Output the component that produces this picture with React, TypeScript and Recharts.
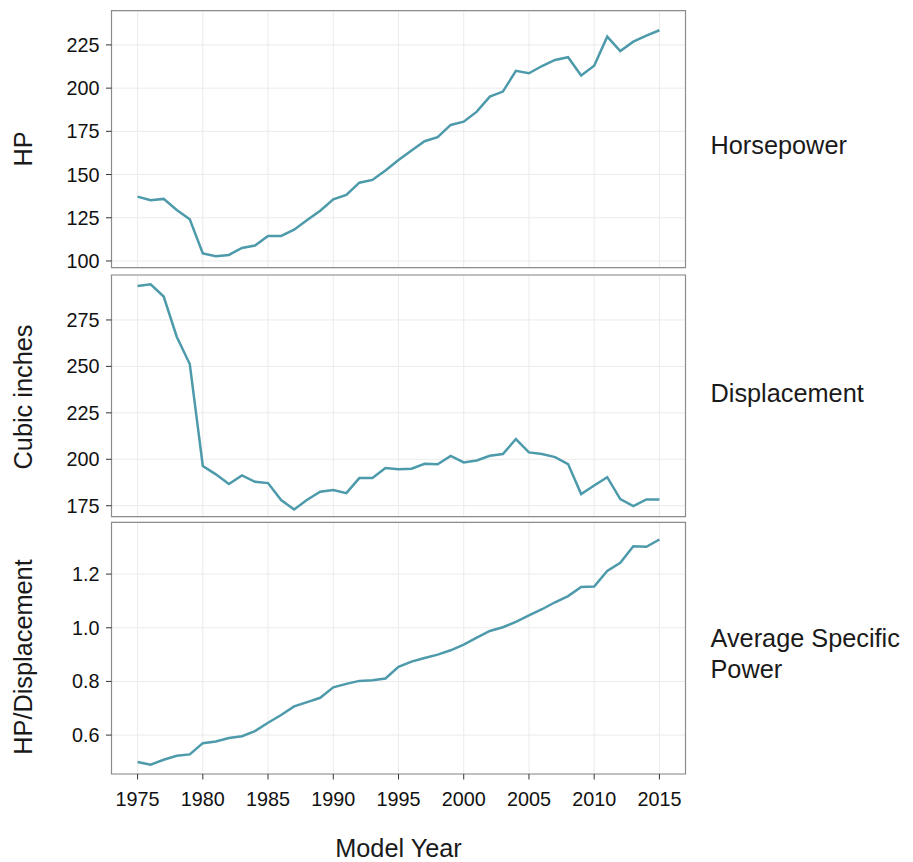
import { LineChart, Line, XAxis, YAxis, CartesianGrid, ReferenceArea } from 'recharts'

const years = [
  1975, 1976, 1977, 1978, 1979, 1980, 1981, 1982, 1983, 1984,
  1985, 1986, 1987, 1988, 1989, 1990, 1991, 1992, 1993, 1994,
  1995, 1996, 1997, 1998, 1999, 2000, 2001, 2002, 2003, 2004,
  2005, 2006, 2007, 2008, 2009, 2010, 2011, 2012, 2013, 2014, 2015,
]

const horsepower = [
  137.2, 135.1, 135.9, 129.5, 124.1, 104.4, 102.7, 103.5, 107.5, 108.9,
  114.5, 114.5, 118.1, 123.7, 129.1, 135.7, 138.2, 145.3, 146.9, 152.3,
  158.4, 163.9, 169.3, 171.6, 178.7, 180.6, 186.4, 195.1, 198.0, 210.0,
  208.6, 212.8, 216.3, 217.9, 207.3, 213.0, 229.8, 221.5, 226.9, 230.4, 233.5,
]

const displacement = [
  293.3, 294.2, 287.6, 266.0, 251.3, 196.4, 191.9, 186.7, 191.3, 187.9,
  187.2, 178.1, 173.0, 178.2, 182.5, 183.4, 181.8, 189.9, 189.9, 195.3,
  194.7, 194.9, 197.6, 197.3, 201.8, 198.3, 199.4, 201.9, 202.8, 210.9,
  203.7, 202.8, 201.2, 197.4, 181.3, 185.9, 190.4, 178.6, 174.8, 178.4, 178.4,
]

const specificPower = [
  0.500, 0.490, 0.508, 0.523, 0.528, 0.570, 0.576, 0.589, 0.596, 0.615,
  0.646, 0.675, 0.707, 0.723, 0.739, 0.778, 0.791, 0.802, 0.804, 0.811,
  0.854, 0.874, 0.887, 0.900, 0.916, 0.937, 0.963, 0.988, 1.002, 1.022,
  1.046, 1.069, 1.095, 1.118, 1.152, 1.154, 1.212, 1.242, 1.304, 1.302, 1.329,
]

const xTicks = [1975, 1980, 1985, 1990, 1995, 2000, 2005, 2010, 2015]
const hpTicks = [100, 125, 150, 175, 200, 225]
const dispTicks = [175, 200, 225, 250, 275]
const powerTicks = [0.6, 0.8, 1.0, 1.2]

const FONT = '"Liberation Sans", Arial, Helvetica, sans-serif'
const LINE = '#4d9aab'
const GRID = '#ebebeb'
const BORDER = '#8c8c8c'
const X_DOMAIN: [number, number] = [1973, 2017]
const TICK_SIZE = 19.8

interface PanelProps {
  values: number[]
  ticks: number[]
  domain: [number, number]
  top: number
  height: number
  margin: { top: number; right: number; bottom: number; left: number }
  showX?: boolean
  fmt?: (v: number) => string
}

function Panel({ values, ticks, domain, top, height, margin, showX, fmt }: PanelProps) {
  const data = years.map((year, i) => ({ year, value: values[i] }))
  return (
    <div style={{ position: 'absolute', left: 0, top }}>
      <LineChart width={913} height={height} data={data} margin={margin}>
        <CartesianGrid stroke={GRID} strokeWidth={1} />
        <XAxis
          dataKey="year"
          type="number"
          domain={X_DOMAIN}
          ticks={xTicks}
          allowDataOverflow
          hide={!showX}
          height={60}
          axisLine={false}
          tickLine={{ stroke: '#333' }}
          tickSize={5.5}
          tickMargin={12}
          interval={0}
          tick={{ fill: '#111', fontSize: TICK_SIZE, fontFamily: FONT }}
        />
        <YAxis
          type="number"
          domain={domain}
          ticks={ticks}
          allowDataOverflow
          width={100}
          axisLine={false}
          tickLine={{ stroke: '#333' }}
          tickSize={5.5}
          tickMargin={6.5}
          interval={0}
          tickFormatter={fmt}
          tick={{ fill: '#111', fontSize: TICK_SIZE, fontFamily: FONT }}
        />
        <ReferenceArea
          x1={X_DOMAIN[0]}
          x2={X_DOMAIN[1]}
          y1={domain[0]}
          y2={domain[1]}
          fill="none"
          stroke={BORDER}
          strokeWidth={1.2}
        />
        <Line
          type="linear"
          dataKey="value"
          stroke={LINE}
          strokeWidth={2.5}
          dot={false}
          isAnimationActive={false}
        />
      </LineChart>
    </div>
  )
}

const textStyle = { fontFamily: FONT, fontSize: 25.3, fill: '#1a1a1a' }

export default function App() {
  return (
    <div style={{ position: 'absolute', left: 0, top: 0, width: 913, height: 862, background: '#fff' }}>
      <Panel
        values={horsepower}
        ticks={hpTicks}
        domain={[96.1, 244.8]}
        top={0}
        height={285}
        margin={{ top: 10.7, right: 227.5, bottom: 17.3, left: 11.5 }}
      />
      <Panel
        values={displacement}
        ticks={dispTicks}
        domain={[169.1, 299.2]}
        top={255}
        height={280}
        margin={{ top: 20, right: 227.5, bottom: 18.3, left: 11.5 }}
      />
      <Panel
        values={specificPower}
        ticks={powerTicks}
        domain={[0.455, 1.393]}
        top={505}
        height={357}
        margin={{ top: 17.3, right: 227.5, bottom: 28, left: 11.5 }}
        showX
        fmt={(v: number) => v.toFixed(1)}
      />
      <svg
        width={913}
        height={862}
        style={{ position: 'absolute', left: 0, top: 0, pointerEvents: 'none' }}
      >
        <text {...textStyle} x={32} y={149} textAnchor="middle" transform="rotate(-90 32 149)">HP</text>
        <text {...textStyle} x={32} y={397} textAnchor="middle" transform="rotate(-90 32 397)">Cubic inches</text>
        <text {...textStyle} x={32} y={657} textAnchor="middle" transform="rotate(-90 32 657)">HP/Displacement</text>
        <text {...textStyle} x={710.5} y={154.3}>Horsepower</text>
        <text {...textStyle} x={710.5} y={402}>Displacement</text>
        <text {...textStyle} x={710.5} y={646.7}>Average Specific</text>
        <text {...textStyle} x={710.5} y={678.3}>Power</text>
        <text {...textStyle} x={398.5} y={857} textAnchor="middle">Model Year</text>
      </svg>
    </div>
  )
}
